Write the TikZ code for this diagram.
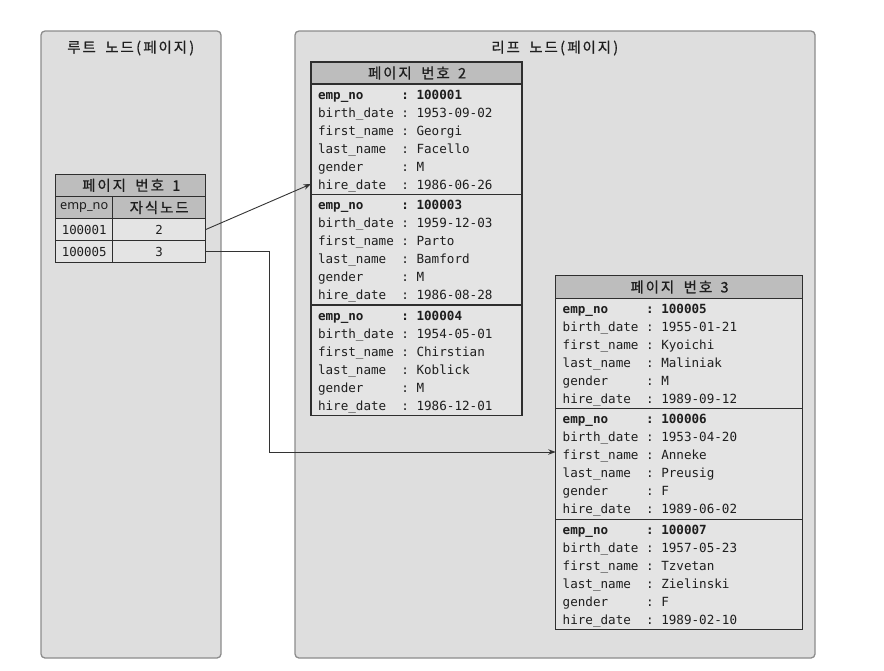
\documentclass[tikz,border=0pt]{standalone}
\usepackage{fontspec}
\setmonofont{DejaVu Sans Mono}
\setsansfont{Noto Sans}
\newfontfamily\krfont[FakeBold=0.6]{Noto Sans CJK KR}
\usetikzlibrary{arrows.meta}
\definecolor{panelfill}{HTML}{DEDEDE}
\definecolor{panelline}{HTML}{8C8C8C}
\definecolor{tblfill}{HTML}{E4E4E4}
\definecolor{hdrfill}{HTML}{BDBDBD}
\definecolor{tblline}{HTML}{2E2E2E}
\definecolor{txt}{HTML}{1E1E1E}
\definecolor{conncol}{HTML}{333333}
% coding-font metrics: full width 15.2pt, half width 7.6pt
\newcommand\hb[1]{\makebox[15.2pt]{#1}}
\newcommand\lb[1]{\makebox[7.6pt]{#1}}
\tikzset{
  panel/.style={draw=panelline, fill=panelfill, rounded corners=4pt, line width=1.3pt},
  cellbox/.style={draw=tblline, fill=tblfill, line width=1.3pt, inner sep=0pt, outer sep=0pt, anchor=north west, text=txt, font=\ttfamily\fontsize{12.4}{14}\selectfont},
  hdrbox/.style={cellbox, fill=hdrfill},
  kr/.style={font=\krfont\fontsize{14.5}{16}\selectfont, text=txt},
  keytxt/.style={anchor=base west, inner sep=0pt, font=\ttfamily\fontsize{12.6}{14}\selectfont, text=txt},
  keybold/.style={anchor=base west, inner sep=0pt, font=\ttfamily\bfseries\fontsize{12.6}{14}\selectfont, text=txt},
  conn/.style={draw=conncol, line width=0.9pt, -{Stealth[length=7.5pt,width=5.5pt]}},
}
% #1 name, #2 top-left coord, #3 width, #4..#9 fields
\newcommand\emprec[9]{%
  \node[cellbox, minimum width=#3, minimum height=110.5pt] (#1) at #2 {};
  \node[keybold] (#1ka) at ([shift={(6.8,15.1)}]#1.north west) {emp\_no};
  \node[keybold] (#1va) at ([shift={(90.2,15.1)}]#1.north west) {: #4};
  \node[keytxt] (#1kb) at ([shift={(6.8,33.1)}]#1.north west) {birth\_date};
  \node[keytxt] (#1vb) at ([shift={(90.2,33.1)}]#1.north west) {: #5};
  \node[keytxt] (#1kc) at ([shift={(6.8,51.1)}]#1.north west) {first\_name};
  \node[keytxt] (#1vc) at ([shift={(90.2,51.1)}]#1.north west) {: #6};
  \node[keytxt] (#1kd) at ([shift={(6.8,69.1)}]#1.north west) {last\_name};
  \node[keytxt] (#1vd) at ([shift={(90.2,69.1)}]#1.north west) {: #7};
  \node[keytxt] (#1ke) at ([shift={(6.8,87.1)}]#1.north west) {gender};
  \node[keytxt] (#1ve) at ([shift={(90.2,87.1)}]#1.north west) {: #8};
  \node[keytxt] (#1kf) at ([shift={(6.8,105.1)}]#1.north west) {hire\_date};
  \node[keytxt] (#1vf) at ([shift={(90.2,105.1)}]#1.north west) {: #9};
}
\newcommand\pagetitle[1]{\hb{페}\hb{이}\hb{지}\lb{ }\hb{번}\hb{호}\lb{ }\lb{#1}}
\begin{document}
\begin{tikzpicture}[x=1pt,y=-1pt]
\fill[white] (0,0) rectangle (884,670);
\useasboundingbox (0,0) rectangle (884,670);
% panels
\draw[panel] (41,31) rectangle (221,658);
\draw[panel] (295,31) rectangle (815,658);
\node[kr] (t1) at (131,48) {\hb{루}\hb{트}\lb{ }\hb{노}\hb{드}\lb{(}\hb{페}\hb{이}\hb{지}\lb{)}};
\node[kr] (t2) at (555,48) {\hb{리}\hb{프}\lb{ }\hb{노}\hb{드}\lb{(}\hb{페}\hb{이}\hb{지}\lb{)}};
% root table
\node[hdrbox, kr, minimum width=150pt, minimum height=22.1pt] (rh) at (55.7,174.3) {\pagetitle{1}};
\node[hdrbox, font=\sffamily\fontsize{12.7}{15}\selectfont, minimum width=57pt, minimum height=22.1pt] (rc1) at (55.7,196.4) {emp\_no};
\node[hdrbox, kr, minimum width=93pt, minimum height=22.1pt] (rc2) at (112.7,196.4) {\hb{자}\hb{식}\hb{노}\hb{드}};
\node[cellbox, minimum width=57pt, minimum height=22.1pt] (r1a) at (55.7,218.5) {100001};
\node[cellbox, minimum width=93pt, minimum height=22.1pt] (r1b) at (112.7,218.5) {2};
\node[cellbox, minimum width=57pt, minimum height=22.1pt] (r2a) at (55.7,240.6) {100005};
\node[cellbox, minimum width=93pt, minimum height=22.1pt] (r2b) at (112.7,240.6) {3};
% page 2
\node[hdrbox, kr, minimum width=211pt, minimum height=22pt] (p2h) at (311,62) {\pagetitle{2}};
\emprec{p2a}{(311,84)}{211pt}{100001}{1953-09-02}{Georgi}{Facello}{M}{1986-06-26}
\emprec{p2b}{(311,194.5)}{211pt}{100003}{1959-12-03}{Parto}{Bamford}{M}{1986-08-28}
\emprec{p2c}{(311,305)}{211pt}{100004}{1954-05-01}{Chirstian}{Koblick}{M}{1986-12-01}
% page 3
\node[hdrbox, kr, minimum width=246.5pt, minimum height=22.6pt] (p3h) at (555.7,275.7) {\pagetitle{3}};
\emprec{p3a}{(555.7,298.3)}{246.5pt}{100005}{1955-01-21}{Kyoichi}{Maliniak}{M}{1989-09-12}
\emprec{p3b}{(555.7,408.8)}{246.5pt}{100006}{1953-04-20}{Anneke}{Preusig}{F}{1989-06-02}
\emprec{p3c}{(555.7,519.3)}{246.5pt}{100007}{1957-05-23}{Tzvetan}{Zielinski}{F}{1989-02-10}
% connectors
\coordinate (in2) at (311,184);
\coordinate (bend) at (269,452);
\coordinate (in3) at (555.7,452);
\draw[conn] (r1b.east) -- (in2);
\draw[conn] (r2b.east) -| (bend) -- (in3);
\end{tikzpicture}
\end{document}
